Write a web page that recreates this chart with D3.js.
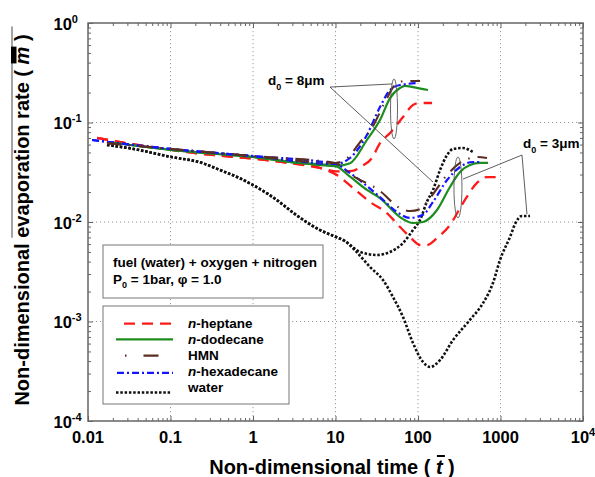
<!DOCTYPE html>
<html>
<head>
<meta charset="utf-8">
<script src="https://cdn.jsdelivr.net/npm/d3@7"></script>
<style>
  body { margin: 0; background: #fff; }
  svg { display: block; }
  text { font-family: "Liberation Sans", Arial, sans-serif; font-weight: bold; fill: #000; }
</style>
</head>
<body>
<svg id="chart" width="595" height="477"></svg>
<script>
// ---- axis ticks ----
const xTicks = [0.01, 0.1, 1, 10, 100, 1000, 10000];
const xTickLabels = ["0.01", "0.1", "1", "10", "100", "1000", "10^4"];
const yTicks = [1, 0.1, 0.01, 0.001, 0.0001];
const yTickLabels = ["10^0", "10^-1", "10^-2", "10^-3", "10^-4"];

// ---- series: [non-dimensional time, non-dimensional evaporation rate] ----
const heptaneEarly = [[0.0129,0.0699],[0.0258,0.063],[0.0908,0.0538],[0.209,0.049],[0.458,0.046],[1.22,0.0427],[2.66,0.0394],[6.5,0.0349]];
const heptane8 = heptaneEarly.concat([[10.4,0.0322],[15.9,0.0326],[20.9,0.0365],[27.7,0.044],[34.6,0.062],[45.8,0.0784],[65.8,0.1135],[86.9,0.150],[106,0.157],[148,0.157]]);
const heptane3 = heptaneEarly.concat([[10.4,0.0297],[16.3,0.022],[26.2,0.0159],[42,0.0123],[60.5,0.00891],[80,0.00707],[106,0.00587],[128,0.00587],[170,0.0069],[244,0.00933],[351,0.0155],[519,0.0247],[686,0.0283],[907,0.0283]]);

const dodecaneEarly = [[0.017,0.0637],[0.101,0.053],[1,0.045],[3.71,0.0392],[10,0.0365]];
const dodecane8 = dodecaneEarly.concat([[15,0.039],[24,0.0667],[34.6,0.106],[45.8,0.176],[60.5,0.222],[69.5,0.233],[86.9,0.227],[132,0.212]]);
const dodecane3 = dodecaneEarly.concat([[15,0.0285],[24,0.021],[34.6,0.0174],[60.5,0.0112],[86.9,0.00977],[115,0.01],[170,0.0132],[244,0.0225],[323,0.0318],[427,0.0374],[565,0.0392],[705,0.0392]]);

const hmnEarly = [[0.017,0.062],[0.101,0.0542],[1,0.046],[10,0.0392]];
const hmn8 = hmnEarly.concat([[13,0.042],[20.9,0.0667],[26.2,0.0822],[40.9,0.168],[52.6,0.238],[69.5,0.261],[106,0.261]]);
const hmn3 = hmnEarly.concat([[15,0.0304],[34.6,0.0205],[60.5,0.0138],[80,0.0129],[106,0.0135],[140,0.0174],[225,0.0297],[323,0.0392],[519,0.045],[686,0.044]]);

const hexadecaneEarly = [[0.0112,0.0667],[0.101,0.0542],[1,0.046],[10,0.0383]];
const hexadecane8 = hexadecaneEarly.concat([[15,0.044],[24,0.0749],[34.6,0.143],[45.8,0.212],[60.5,0.238],[100,0.249]]);
const hexadecane3 = hexadecaneEarly.concat([[15,0.031],[34.6,0.0178],[55.6,0.0126],[80,0.011],[115,0.0118],[152,0.0159],[225,0.0264],[323,0.0357],[464,0.0401],[597,0.0401]]);

const waterEarly = [[0.017,0.0594],[0.032,0.0551],[0.0986,0.0453],[0.248,0.0389],[0.398,0.0333],[0.695,0.0275],[1,0.0235],[1.48,0.0194],[1.95,0.0166],[3.23,0.012],[6.5,0.0083],[10,0.0071],[13,0.00644]];
const water8 = waterEarly.concat([[19.8,0.005],[32,0.00466],[45.8,0.005],[65.8,0.00615],[86.9,0.0083],[106,0.0105],[128,0.0159],[152,0.021],[185,0.0333],[225,0.0471],[266,0.0542],[351,0.0554],[464,0.0505]]);
const water3 = waterEarly.concat([[17.2,0.0052],[26.2,0.00353],[37.6,0.00261],[49.8,0.00176],[65.8,0.00111],[86.9,0.000608],[115,0.000392],[140,0.000349],[185,0.00041],[266,0.000652],[427,0.00104],[614,0.00153],[811,0.00244],[986,0.00415],[1303,0.00707],[1542,0.01],[1822,0.0115],[2280,0.0115]]);

// ---- legend and annotation text ----
const legendNames = [["n", "-heptane"], ["n", "-dodecane"], ["", "HMN"], ["n", "-hexadecane"], ["", "water"]];
const infoLine1 = "fuel (water) + oxygen + nitrogen";
const infoLine2 = ["P", "0", " = 1bar, \u03c6 = 1.0"];
const ann8 = { text: " = 8\u03bcm", label: [1.52, 0.238], hub: [8.58, 0.227], ends: [[48.4, 0.244], [152, 0.0252]], ellipse: { t: 51.2, top: 0.274, bottom: 0.0683, rx: 3.5 } };
const ann3 = { text: " = 3\u03bcm", label: [1875, 0.0554], hub: [1822, 0.0471], ends: [[351, 0.027], [2094, 0.012]], ellipse: { t: 305, top: 0.045, bottom: 0.011, rx: 4 } };

// ---- styles ----
const style = {
  heptane:    { color: "#ff1a1a", dash: "11,7",         width: 2.3 },
  dodecane:   { color: "#1e8c1e", dash: null,           width: 2.2 },
  hmn:        { color: "#5a2e22", dash: "14,8,1.5,8",   width: 2.1 },
  hexadecane: { color: "#1414ff", dash: "7,3,2,3",      width: 2.2 },
  water:      { color: "#111",    dash: "2.5,1.8",      width: 2.6 }
};

const svg = d3.select("#chart");
const x = d3.scaleLog().domain([0.01, 1e4]).range([88, 583]);
const y = d3.scaleLog().domain([1e-4, 1]).range([421, 23]);

// grid
const grid = svg.append("g").attr("stroke", "#9a9a9a").attr("stroke-width", 1).attr("stroke-dasharray", "1.2,2.8");
grid.selectAll(".gx").data(xTicks.slice(1, -1)).join("line")
  .attr("x1", d => x(d)).attr("x2", d => x(d)).attr("y1", y(1)).attr("y2", y(1e-4));
grid.selectAll(".gy").data(yTicks.slice(1, -1)).join("line")
  .attr("y1", d => y(d)).attr("y2", d => y(d)).attr("x1", x(0.01)).attr("x2", x(1e4));

// minor tick positions
const xMinor = [], yMinor = [];
for (let e = -2; e < 4; e++) for (let k = 2; k < 10; k++) xMinor.push(k * Math.pow(10, e));
for (let e = -4; e < 0; e++) for (let k = 2; k < 10; k++) yMinor.push(k * Math.pow(10, e));

function axis(gen, tr) {
  svg.append("g").attr("transform", tr).call(gen)
    .call(g => g.select(".domain").remove())
    .call(g => g.selectAll("line").attr("stroke", "#666").attr("stroke-width", 1));
}
axis(d3.axisBottom(x).tickValues(xTicks).tickSize(-5).tickFormat(""), `translate(0,${y(1e-4)})`);
axis(d3.axisBottom(x).tickValues(xMinor).tickSize(-3).tickFormat(""), `translate(0,${y(1e-4)})`);
axis(d3.axisTop(x).tickValues(xTicks).tickSize(-5).tickFormat(""), `translate(0,${y(1)})`);
axis(d3.axisTop(x).tickValues(xMinor).tickSize(-3).tickFormat(""), `translate(0,${y(1)})`);
axis(d3.axisLeft(y).tickValues(yTicks).tickSize(-5).tickFormat(""), `translate(${x(0.01)},0)`);
axis(d3.axisLeft(y).tickValues(yMinor).tickSize(-3).tickFormat(""), `translate(${x(0.01)},0)`);
axis(d3.axisRight(y).tickValues(yTicks).tickSize(-5).tickFormat(""), `translate(${x(1e4)},0)`);
axis(d3.axisRight(y).tickValues(yMinor).tickSize(-3).tickFormat(""), `translate(${x(1e4)},0)`);

svg.append("rect").attr("x", x(0.01)).attr("y", y(1))
  .attr("width", x(1e4) - x(0.01)).attr("height", y(1e-4) - y(1))
  .attr("fill", "none").attr("stroke", "#666").attr("stroke-width", 1.5);

// tick labels with superscripts
function powerLabel(sel, str) {
  const [b, e] = str.split("^");
  sel.append("tspan").text(b);
  if (e) sel.append("tspan").attr("font-size", 11).attr("dy", -7).text(e);
}
xTicks.forEach((v, i) => {
  const t = svg.append("text").attr("x", x(v)).attr("y", 443)
    .attr("text-anchor", "middle").attr("font-size", 16.5);
  powerLabel(t, xTickLabels[i]);
});
yTicks.forEach((v, i) => {
  const t = svg.append("text").attr("x", 53.5).attr("y", y(v) + 6.5).attr("font-size", 16.5);
  powerLabel(t, yTickLabels[i]);
});

// axis titles
const xt = svg.append("text").attr("x", 332).attr("y", 474).attr("text-anchor", "middle").attr("font-size", 20);
xt.append("tspan").text("Non-dimensional time ( ");
const tBar = xt.append("tspan").attr("font-style", "italic").text("t");
xt.append("tspan").text(" )");
{
  const b = tBar.node().getBBox();
  svg.append("line").attr("x1", b.x + 1).attr("x2", b.x + b.width + 1)
    .attr("y1", 456).attr("y2", 456).attr("stroke", "#000").attr("stroke-width", 2);
}

const yg = svg.append("g").attr("transform", "translate(29,220) rotate(-90)");
const yt = yg.append("text").attr("text-anchor", "middle").attr("font-size", 20);
yt.append("tspan").text("Non-dimensional ");
const overStart = yt.append("tspan").text("evaporation rate ( ");
const mSpan = yt.append("tspan").attr("font-style", "italic").text("m");
const closeSpan = yt.append("tspan").text(" )");
{
  const b0 = overStart.node().getBBox();
  const bm = mSpan.node().getBBox();
  const b1 = closeSpan.node().getBBox();
  yg.append("line").attr("x1", b0.x).attr("x2", b1.x + b1.width + 8)
    .attr("y1", -17).attr("y2", -17).attr("stroke", "#666").attr("stroke-width", 1.2);
  yg.append("rect").attr("x", bm.x + 1).attr("width", bm.width - 1)
    .attr("y", -18).attr("height", 5.5).attr("fill", "#000");
}

// curves
const line = d3.line().x(d => x(d[0])).y(d => y(d[1])).curve(d3.curveMonotoneX);
const curves = [
  [water8, style.water], [water3, style.water],
  [heptane8, style.heptane], [heptane3, style.heptane],
  [dodecane8, style.dodecane], [dodecane3, style.dodecane],
  [hexadecane8, style.hexadecane], [hexadecane3, style.hexadecane],
  [hmn8, style.hmn], [hmn3, style.hmn]
];
svg.append("g").selectAll("path").data(curves).join("path")
  .attr("d", d => line(d[0]))
  .attr("fill", "none")
  .attr("stroke", d => d[1].color)
  .attr("stroke-width", d => d[1].width)
  .attr("stroke-dasharray", d => d[1].dash);

// droplet-size annotations
function annotate(a) {
  const g = svg.append("g");
  const e = a.ellipse;
  const cy = (y(e.top) + y(e.bottom)) / 2;
  g.append("ellipse").attr("cx", x(e.t)).attr("cy", cy)
    .attr("rx", e.rx).attr("ry", (y(e.bottom) - y(e.top)) / 2)
    .attr("fill", "none").attr("stroke", "#555").attr("stroke-width", 0.9);
  a.ends.forEach(p => {
    g.append("line").attr("x1", x(a.hub[0])).attr("y1", y(a.hub[1]))
      .attr("x2", x(p[0])).attr("y2", y(p[1]))
      .attr("stroke", "#333").attr("stroke-width", 0.8);
  });
  const t = g.append("text").attr("x", x(a.label[0])).attr("y", y(a.label[1])).attr("font-size", 13.5);
  t.append("tspan").text("d");
  t.append("tspan").attr("font-size", 9).attr("dy", 5).text("0");
  t.append("tspan").attr("dy", -5).text(a.text);
}
annotate(ann8);
annotate(ann3);

// condition box
svg.append("rect").attr("x", 103).attr("y", 245).attr("width", 220).attr("height", 53)
  .attr("fill", "#fff").attr("stroke", "#777").attr("stroke-width", 1);
svg.append("text").attr("x", 113).attr("y", 267).attr("font-size", 13.5).text(infoLine1);
{
  const t = svg.append("text").attr("x", 113).attr("y", 284).attr("font-size", 13.5);
  t.append("tspan").text(infoLine2[0]);
  t.append("tspan").attr("font-size", 9).attr("dy", 4).text(infoLine2[1]);
  t.append("tspan").attr("dy", -4).text(infoLine2[2]);
}

// legend
svg.append("rect").attr("x", 103).attr("y", 306).attr("width", 186).attr("height", 98)
  .attr("fill", "#fff").attr("stroke", "#777").attr("stroke-width", 1);
const legendStyles = [style.heptane, style.dodecane, style.hmn, style.hexadecane, style.water];
const legendDash = ["11,7", null, "1.5,17,15,40", "7,3,2,3", "2.5,1.8"];
const legendLineX = [[124, 173], [116, 173], [125, 173], [117, 173], [116, 171]];
const legendLineDy = [1, 0.5, 0.5, 1.5, 5];
legendNames.forEach((nm, i) => {
  const cy = 322.7 + i * 16.2;
  const s = legendStyles[i];
  svg.append("line").attr("x1", legendLineX[i][0]).attr("x2", legendLineX[i][1])
    .attr("y1", cy + legendLineDy[i]).attr("y2", cy + legendLineDy[i])
    .attr("stroke", s.color).attr("stroke-width", s.width)
    .attr("stroke-dasharray", legendDash[i]);
  const t = svg.append("text").attr("x", 188).attr("y", cy + 4.8).attr("font-size", 13.5);
  if (nm[0]) t.append("tspan").attr("font-style", "italic").text(nm[0]);
  t.append("tspan").text(nm[1]);
});
</script>
</body>
</html>
